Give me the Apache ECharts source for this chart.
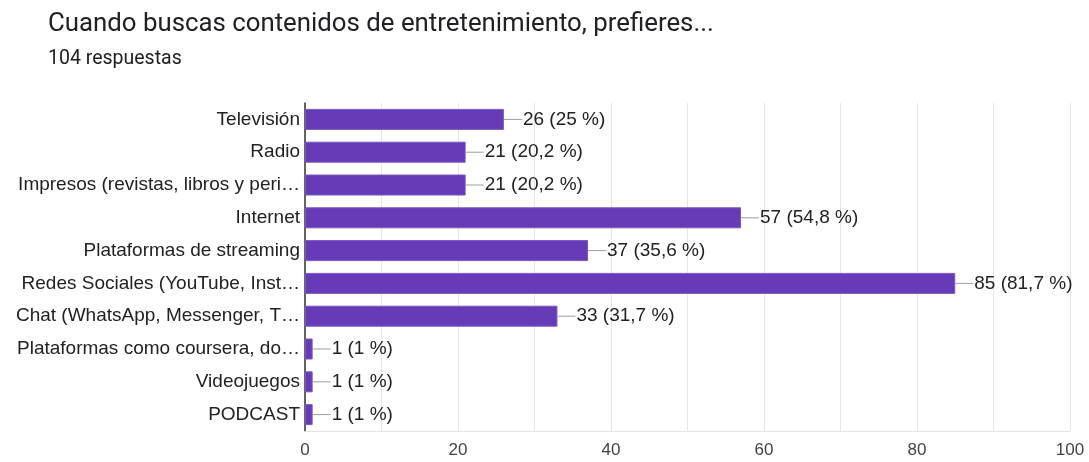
<!DOCTYPE html>
<html>
<head>
<meta charset="utf-8">
<script src="https://cdn.jsdelivr.net/npm/echarts@6/dist/echarts.min.js"></script>
<style>
  html, body { margin: 0; padding: 0; background: #fff; }
  #chart { width: 1089px; height: 462px; }
</style>
</head>
<body>
<div id="chart"></div>
<script>
// Survey answers (104 responses)
const categories = [
  'Televisión',
  'Radio',
  'Impresos (revistas, libros y peri…',
  'Internet',
  'Plataformas de streaming',
  'Redes Sociales (YouTube, Inst…',
  'Chat (WhatsApp, Messenger, T…',
  'Plataformas como coursera, do…',
  'Videojuegos',
  'PODCAST'
];
const counts = [26, 21, 21, 57, 37, 85, 33, 1, 1, 1];
const totalResponses = 104;
const xTicks = [0, 20, 40, 60, 80, 100];

// "26 (25 %)" style text: count plus share of all responses
function pct(v) {
  let s = (v / totalResponses * 100).toFixed(1);
  if (s.endsWith('.0')) s = s.slice(0, -2);
  return s.replace('.', ',');
}

const labelFont = '"Liberation Sans", Arial, Helvetica, sans-serif';

const chart = echarts.init(document.getElementById('chart'));
chart.setOption({
  animation: false,
  textStyle: { fontFamily: labelFont },
  title: [
    {
      text: 'Cuando buscas contenidos de entretenimiento, prefieres...',
      left: 43, top: 7,
      textStyle: { fontSize: 25.8, fontWeight: 'normal', color: '#202124', fontFamily: 'Roboto' }
    },
    {
      text: '104 respuestas',
      left: 43, top: 44,
      textStyle: { fontSize: 19.5, fontWeight: 'normal', color: '#202124', fontFamily: 'Roboto' }
    }
  ],
  grid: { left: 305, right: 19, top: 103, bottom: 31, containLabel: false },
  xAxis: {
    type: 'value',
    min: 0, max: 100, interval: 10,
    axisLine: { show: true, lineStyle: { color: '#e3e3e3', width: 1 } },
    axisTick: { show: false },
    splitLine: { show: true, lineStyle: { color: '#e6e6e6', width: 1 } },
    axisLabel: {
      color: '#444', fontSize: 17, margin: 11, fontFamily: labelFont,
      formatter: v => (xTicks.indexOf(v) >= 0 ? String(v) : '')
    }
  },
  yAxis: {
    type: 'category',
    inverse: true,
    data: categories,
    axisLine: { show: true, lineStyle: { color: '#333', width: 1.5 } },
    axisTick: { show: false },
    splitLine: { show: false },
    axisLabel: { color: '#222', fontSize: 19, margin: 5, fontFamily: labelFont }
  },
  series: [
    {
      type: 'bar',
      data: counts,
      barWidth: 21,
      itemStyle: { color: '#673ab7', borderColor: '#7e57c2', borderWidth: 1 },
      label: {
        show: true,
        position: 'right',
        distance: 0,
        formatter: p => '{l|}{t|' + p.value + ' (' + pct(p.value) + ' %)}',
        rich: {
          l: { width: 18, height: 1, backgroundColor: '#9e9e9e' },
          t: { fontSize: 19, color: '#222', fontFamily: labelFont, padding: [0, 0, 0, 1] }
        }
      }
    }
  ]
});
</script>
</body>
</html>
